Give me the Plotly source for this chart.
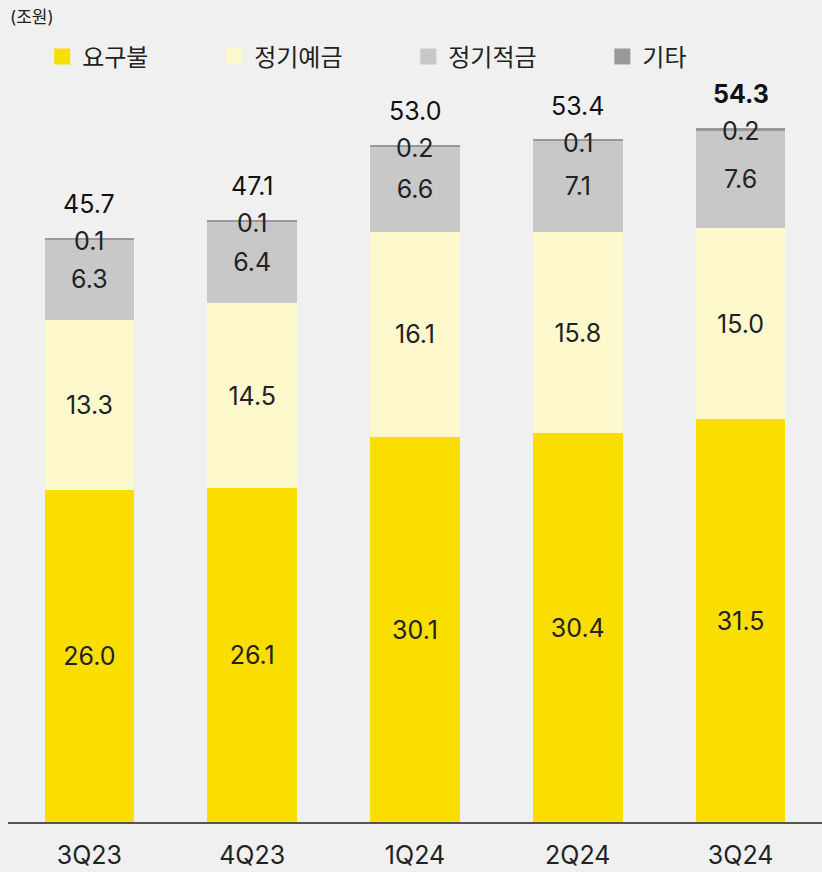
import plotly.graph_objects as go

categories = ["3Q23", "4Q23", "1Q24", "2Q24", "3Q24"]
demand = [26.0, 26.1, 30.1, 30.4, 31.5]        # 요구불
time_dep = [13.3, 14.5, 16.1, 15.8, 15.0]      # 정기예금
savings = [6.3, 6.4, 6.6, 7.1, 7.6]            # 정기적금
other = [0.1, 0.1, 0.2, 0.1, 0.2]              # 기타
totals = [45.7, 47.1, 53.0, 53.4, 54.3]
series_names = ["요구불", "정기예금", "정기적금", "기타"]
colors = ["#F9DE00", "#FEF9CC", "#C8C8C8", "#999999"]

FONT = "Inter, Noto Sans CJK KR, sans-serif"
TXT = "#222222"
PAD = "\u00a0" * 9

fig = go.Figure()
for name, vals, col in zip(series_names[:3], [demand, time_dep, savings], colors[:3]):
    fig.add_trace(go.Bar(
        name=name, x=categories, y=vals, marker=dict(color=col, line=dict(width=0)),
        text=[f"{v:.1f}" for v in vals], textposition="inside", insidetextanchor="middle",
        textangle=0, textfont=dict(size=25, color=TXT, family=FONT),
        hoverinfo="skip", showlegend=False,
    ))
fig.add_trace(go.Bar(
    name=series_names[3], x=categories, y=other, marker=dict(color=colors[3], line=dict(width=0)),
    textposition="none", hoverinfo="skip", showlegend=False,
))

# legend proxies with larger square swatches
for name, col in zip(series_names, colors):
    fig.add_trace(go.Scatter(
        x=[None], y=[None], mode="markers", name=name + PAD,
        marker=dict(symbol="square", size=16, color=col, line=dict(width=0)),
        showlegend=True, hoverinfo="skip",
    ))

base = [d + t + s for d, t, s in zip(demand, time_dep, savings)]
for i, c in enumerate(categories):
    fig.add_annotation(x=c, y=base[i] + other[i], text=f"{other[i]:.1f}", showarrow=False,
                       yanchor="middle", yshift=-3,
                       font=dict(size=25, color=TXT, family=FONT))
    t = f"<b>{totals[i]:.1f}</b>" if i == len(categories) - 1 else f"{totals[i]:.1f}"
    fig.add_annotation(x=c, y=base[i] + other[i], text=t, showarrow=False,
                       yanchor="middle", yshift=34,
                       font=dict(size=25, color="#111111", family=FONT))

fig.add_annotation(xref="paper", yref="paper", x=0, y=1.085, xanchor="left", yanchor="middle",
                   text="(조원)", showarrow=False, font=dict(size=17, color=TXT, family=FONT))

fig.update_layout(
    barmode="stack", bargap=0.45,
    width=822, height=872,
    margin=dict(l=8, r=0, t=80, b=50, autoexpand=False),
    paper_bgcolor="#F0F0F0", plot_bgcolor="#F0F0F0",
    font=dict(family=FONT, color=TXT),
    showlegend=True,
    legend=dict(orientation="h", x=0.042, xanchor="left", y=1.031, yanchor="middle",
                traceorder="normal", itemsizing="trace",
                font=dict(size=24, color=TXT, family=FONT), bgcolor="rgba(0,0,0,0)"),
)
fig.update_xaxes(showline=True, linecolor="#555555", linewidth=2, ticks="", showgrid=False,
                 automargin=False,
                 tickfont=dict(size=25, color=TXT, family=FONT), ticklabelstandoff=10)
fig.update_yaxes(visible=False, range=[0, 58.06], showgrid=False, zeroline=False, automargin=False)

fig.write_html("out.html", config={"displayModeBar": False},
               post_script="document.body.style.margin='0';")
